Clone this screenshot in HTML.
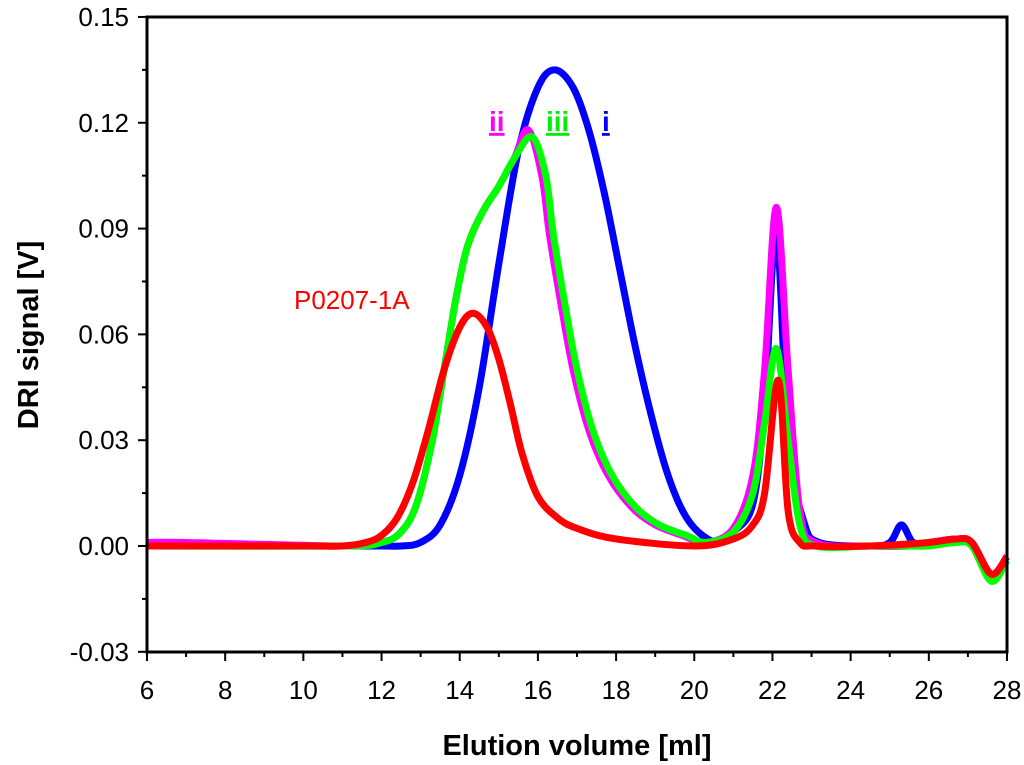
<!DOCTYPE html>
<html><head><meta charset="utf-8"><style>
body{margin:0;background:#fff}
svg{display:block;font-family:"Liberation Sans",sans-serif}
</style></head><body>
<svg id="chart" width="1024" height="765">
<g id="axes"></g>
<g id="series"></g>
<rect x="147" y="17" width="860" height="635" fill="none" stroke="#000" stroke-width="3"/>
<text x="577" y="755" text-anchor="middle" font-size="29" font-weight="bold">Elution volume [ml]</text>
<text transform="translate(38,335) rotate(-90)" text-anchor="middle" font-size="29" font-weight="bold">DRI signal [V]</text>
<text x="294" y="309" font-size="26" fill="#ff0000">P0207-1A</text>
<text x="489" y="131" font-size="28" font-weight="bold" fill="#ff00ff" text-decoration="underline">ii</text>
<text x="546" y="131" font-size="28" font-weight="bold" fill="#00ee00" text-decoration="underline">iii</text>
<text x="602" y="131" font-size="28" font-weight="bold" fill="#0000ff" text-decoration="underline">i</text>
</svg>
<script>
const xTicks=[6,8,10,12,14,16,18,20,22,24,26,28];
const yTicks=[-0.03,0,0.03,0.06,0.09,0.12,0.15];
const yTickLabels=["-0.03","0.00","0.03","0.06","0.09","0.12","0.15"];
const blueX=[6,11,12,12.5,13,13.5,14,14.5,15,15.5,16,16.43,16.9,17.3,17.7,18.1,18.5,18.9,19.3,19.7,20.1,20.6,21,21.5,21.8,22.1,22.4,22.8,23.2,24.5,25,25.3,25.6,26,26.7,27.1,27.6,28];
const blueY=[0,0,0,0,0.001,0.006,0.02,0.045,0.08,0.112,0.13,0.135,0.13,0.118,0.1,0.078,0.056,0.037,0.021,0.01,0.004,0.001,0.004,0.012,0.04,0.089,0.03,0.007,0.001,0,0.001,0.006,0.001,0.001,0.002,0.001,-0.008,-0.003];
const magX=[6,7,11,12,12.5,12.9,13.3,13.6,13.9,14.2,14.6,15,15.4,15.75,16.1,16.3,16.6,16.9,17.3,17.8,18.4,19,19.7,20.3,21,21.5,21.8,22.1,22.4,22.7,23.1,24.5,25.5,26,26.7,27.1,27.6,28];
const magY=[0.001,0.001,0,0.001,0.004,0.012,0.03,0.05,0.07,0.085,0.095,0.102,0.11,0.118,0.105,0.088,0.068,0.05,0.033,0.02,0.011,0.006,0.003,0.001,0.005,0.02,0.05,0.096,0.05,0.01,0.001,0,0,0.001,0.002,0.001,-0.008,-0.003];
const grnX=[6,11,12,12.5,12.9,13.3,13.6,13.9,14.2,14.6,15,15.4,15.85,16.2,16.4,16.7,17,17.4,17.9,18.5,19.1,19.8,20.3,21,21.5,21.8,22.1,22.4,22.7,23.1,24.5,25.5,26,26.7,27.1,27.6,28];
const grnY=[0,0,0.001,0.004,0.012,0.03,0.05,0.07,0.085,0.095,0.102,0.11,0.116,0.105,0.088,0.068,0.05,0.033,0.02,0.011,0.006,0.003,0.001,0.004,0.015,0.035,0.056,0.03,0.006,0,0,0,0,0.001,0,-0.01,-0.004];
const redX=[6,10,11,11.6,12,12.4,12.8,13.2,13.6,14,14.34,14.7,15,15.3,15.6,16,16.5,17,18,20,21,21.5,21.8,22.15,22.4,22.7,23.1,24.5,26,26.7,27.1,27.6,28];
const redY=[0,0,0,0.001,0.003,0.008,0.018,0.033,0.05,0.062,0.066,0.062,0.053,0.04,0.026,0.014,0.008,0.005,0.002,0,0.002,0.006,0.015,0.047,0.01,0.001,0,0,0.001,0.002,0.001,-0.008,-0.003];
const X=v=>147+(v-6)*860/22, Y=v=>546-v*3527;
const NS="http://www.w3.org/2000/svg";
const axes=document.getElementById('axes'), ser=document.getElementById('series');
function mk(t,a,p){const e=document.createElementNS(NS,t);for(const k in a)e.setAttribute(k,a[k]);p.appendChild(e);return e;}
for(let i=0;i<xTicks.length;i++){
 const x=X(xTicks[i]);
 const t=mk('line',{x1:x,x2:x,y1:652,y2:661,stroke:'#000','stroke-width':2},axes);
 
 
 if(i<xTicks.length-1){const m=mk('line',{x1:X(xTicks[i]+1),x2:X(xTicks[i]+1),y1:652,y2:657,stroke:'#000','stroke-width':2},axes);
 
 }
 const l=mk('text',{x:x,y:699,'text-anchor':'middle','font-size':26},axes);l.textContent=xTicks[i];
 
 
}
for(let i=0;i<yTicks.length;i++){
 const y=Y(yTicks[i]);
 const t=mk('line',{x1:138,x2:147,y1:y,y2:y,stroke:'#000','stroke-width':2},axes);
 
 
 if(i<yTicks.length-1){const ym=Y(yTicks[i]+0.015);const m=mk('line',{x1:142,x2:147,y1:ym,y2:ym,stroke:'#000','stroke-width':2},axes);
 
 }
 const l=mk('text',{x:129,y:y+9,'text-anchor':'end','font-size':26},axes);l.textContent=yTickLabels[i];
 
 
}
function path(xs,ys){
 const p=xs.map((v,i)=>[X(v),Y(ys[i])]);
 let d='M'+p[0][0]+','+p[0][1];
 for(let i=0;i<p.length-1;i++){
  const p0=p[Math.max(0,i-1)],p1=p[i],p2=p[i+1],p3=p[Math.min(p.length-1,i+2)];
  d+=' C'+(p1[0]+(p2[0]-p0[0])/6)+','+(p1[1]+(p2[1]-p0[1])/6)+' '+(p2[0]-(p3[0]-p1[0])/6)+','+(p2[1]-(p3[1]-p1[1])/6)+' '+p2[0]+','+p2[1];
 }
 return d;
}
const s=[[blueX,blueY,'#0000ff','series-i-blue'],[magX,magY,'#ff00ff','series-ii-magenta'],[grnX,grnY,'#00ff00','series-iii-green'],[redX,redY,'#ff0000','series-p0207-1a-red']];
for(const [xs,ys,c,n] of s){
 const e=mk('path',{d:path(xs,ys),fill:'none',stroke:c,'stroke-width':7,'stroke-linejoin':'round'},ser);
 
 
}
</script>
</body></html>
